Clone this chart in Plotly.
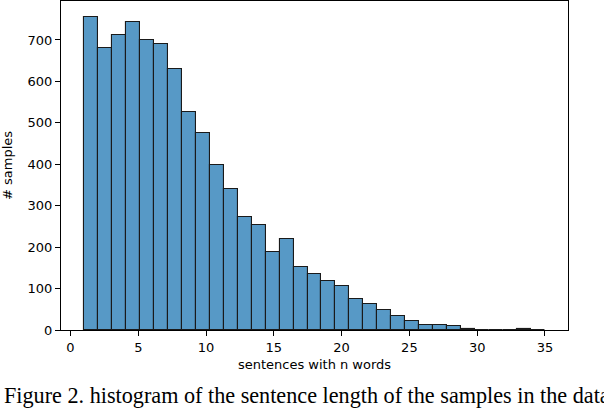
import numpy as np
import plotly.graph_objects as go

# histogram counts (33 bins between 1 and 35)
binStart = 1
binEnd = 35
counts = [756, 680, 712, 743, 699, 691, 630, 526, 475, 398, 341,
          273, 253, 189, 220, 151, 136, 119, 106, 76, 63, 48, 35,
          21, 12, 11, 9, 2, 1, 1, 0, 3, 1]
xTicks = [0, 5, 10, 15, 20, 25, 30, 35]
yTicks = [0, 100, 200, 300, 400, 500, 600, 700]
xTitle = 'sentences with n words'
yTitle = '# samples'
caption = 'Figure 2. histogram of the sentence length of the samples in the data'

binWidth = (binEnd - binStart) / len(counts)
centers = binStart + binWidth * (np.arange(len(counts)) + 0.5)

fig = go.Figure(go.Bar(
    x=centers,
    y=counts,
    width=binWidth,
    marker=dict(color='#5799c6', line=dict(color='#1a1a1a', width=1.1)),
))

axisStyle = dict(
    showline=True, linecolor='black', linewidth=1, mirror=True,
    ticks='outside', ticklen=5, tickcolor='black', tickwidth=1,
    showgrid=False, zeroline=False,
    tickfont=dict(family='DejaVu Sans', size=13, color='black'),
)

fig.update_layout(
    width=604, height=408,
    margin=dict(l=61, r=36, t=1, b=78),
    plot_bgcolor='white', paper_bgcolor='white',
    showlegend=False,
    bargap=0,
    xaxis=dict(range=[-0.7, 36.7], tickvals=xTicks,
               title=dict(text=xTitle, standoff=6,
                          font=dict(family='DejaVu Sans', size=13, color='black')),
               **axisStyle),
    yaxis=dict(range=[0, 794], tickvals=yTicks,
               title=dict(text=yTitle, standoff=12,
                          font=dict(family='DejaVu Sans', size=13, color='black')),
               **axisStyle),
)

# caption runs past the right edge, as in the original figure
fig.add_annotation(
    text=caption, xref='paper', yref='paper',
    x=-0.116, y=-0.2, xanchor='left', yanchor='middle',
    showarrow=False,
    font=dict(family='Liberation Serif', size=22.2, color='black'),
)

# drop the browser's default body margin so the figure sits at the corner
fig.write_html('out.html', config={'displayModeBar': False},
               post_script="document.body.style.margin='0';")
